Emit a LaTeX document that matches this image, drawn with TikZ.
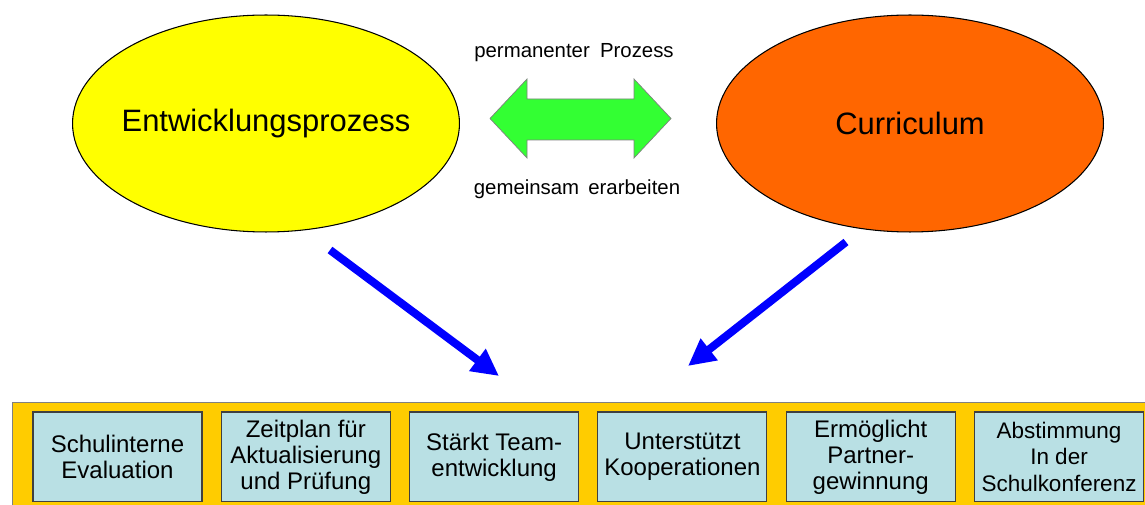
\documentclass[tikz,border=0pt]{standalone}
\usepackage{fontspec}
\setmainfont{Liberation Sans}
\usetikzlibrary{arrows.meta,shapes.geometric}
\definecolor{bandyellow}{RGB}{255,204,0}
\definecolor{boxblue}{RGB}{185,224,228}
\definecolor{ellyellow}{RGB}{255,255,0}
\definecolor{ellorange}{RGB}{255,102,0}
\definecolor{arrowgreen}{RGB}{51,255,51}

\begin{document}
\begin{tikzpicture}[x=0.02cm,y=0.02cm,
	blob/.style={draw=black,ellipse,line width=0.6pt,minimum width=7.74cm,minimum height=4.34cm,inner xsep=-0.2cm,inner ysep=0,font=\fontsize{17.6}{20}\selectfont},
	note/.style={anchor=base,inner sep=0,font=\fontsize{11.6}{13}\selectfont},
	task/.style={draw=black!75,fill=boxblue,line width=0.6pt,minimum width=3.38cm,minimum height=1.794cm,inner sep=0,align=center,font=\fontsize{13.66}{14.8}\selectfont},
	link/.style={draw=blue,line width=0.16cm,-{Triangle[length=0.54cm,width=0.52cm]}}]
	\useasboundingbox (0,0) rectangle (1145,504);
	\filldraw[fill=bandyellow,draw=black!50,line width=0.6pt] (12.7,101.3) rectangle (1165,-10);
	\node[blob,fill=ellyellow] (dev) at (266,380.5) {Entwicklungsprozess};
	\node[blob,fill=ellorange] (cur) at (910,380.5) {Curriculum};
	\filldraw[fill=arrowgreen,draw=black!50,line width=0.4pt] (490,385.5) -- (527,425) -- (527,405) -- (634,405) -- (634,425) -- (671,385.5) -- (634,346) -- (634,364) -- (527,364) -- (527,346) -- cycle;
	\node[note] (top) at (574,446) {permanenter\hspace{0.5em}Prozess};
	\node[note] (bottom) at (577,309) {gemeinsam\hspace{0.45em}erarbeiten};
	\coordinate (devout) at (330,254);
	\coordinate (devin) at (499,128);
	\coordinate (curout) at (846,262);
	\coordinate (curin) at (688,138);
	\draw[link] (devout) -- (devin);
	\draw[link] (curout) -- (curin);
	\node[task] (b1) at (117.5,47.15) {Schulinterne\\Evaluation};
	\node[task] (b2) at (305.8,47.15) {Zeitplan für\\Aktualisierung\\und Prüfung};
	\node[task] (b3) at (494.1,47.15) {Stärkt Team-\\entwicklung};
	\node[task] (b4) at (682.4,47.15) {Unterstützt\\Kooperationen};
	\node[task] (b5) at (870.7,47.15) {Ermöglicht\\Partner-\\gewinnung};
	\node[task,font=\fontsize{12.8}{15.1}\selectfont] (b6) at (1059,47.15) {Abstimmung\\In der\\Schulkonferenz};
\end{tikzpicture}
\end{document}
